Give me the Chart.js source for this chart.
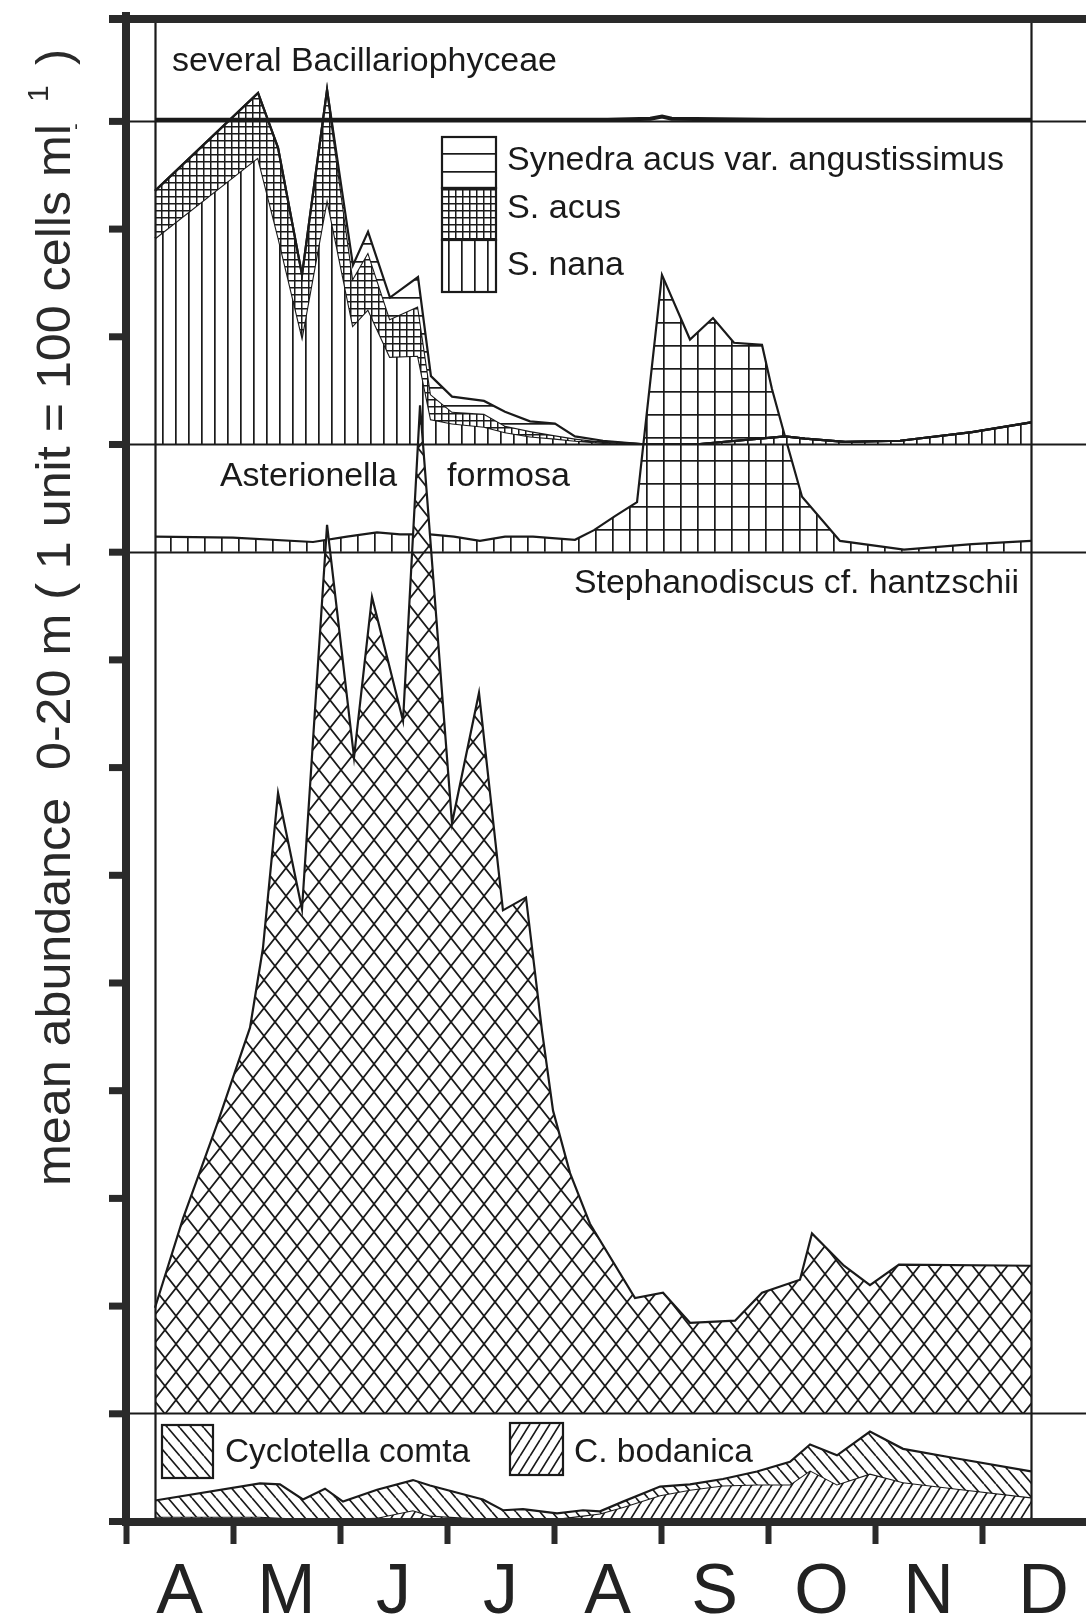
<!DOCTYPE html>
<html>
<head>
<meta charset="utf-8">
<script src="https://cdn.jsdelivr.net/npm/chart.js@4.4.1/dist/chart.umd.min.js"></script>
<style>
  html, body { margin: 0; padding: 0; background: #fff; }
  canvas { display: block; }
</style>
</head>
<body>
<canvas id="c" width="1086" height="1617"></canvas>
<script>
// month initials, labels sit between the month ticks
const months = ['A', 'M', 'J', 'J', 'A', 'S', 'O', 'N', 'D'];
// each band sits on its own baseline (units of 100 cells/ml)
const bandLines = [1, 9, 10, 13];

// dates are months after 1 April
const severalDates = [0.271, 2.0, 4.5, 4.9, 5.01, 5.1, 6.0, 8.458];
const several = [0.01, 0.01, 0.01, 0.02, 0.04, 0.02, 0.01, 0.01];

const synedraDates = [0.271, 1.234, 1.421, 1.645, 1.879, 2.121, 2.262, 2.467, 2.729, 2.850, 3.047, 3.346, 3.542,
  3.776, 4.009, 4.196, 4.458, 4.813, 5.364, 6.159, 6.346, 6.720, 7.234, 7.907, 8.458];
const nana = [1.91, 2.66, 1.93, 1.00, 2.28, 1.10, 1.25, 0.81, 0.82, 0.23, 0.19, 0.16, 0.11,
  0.07, 0.05, 0.03, 0.01, 0, 0, 0.07, 0.05, 0.02, 0.03, 0.11, 0.20];
const acus = [0.44, 0.60, 0.82, 0.57, 1.01, 0.44, 0.53, 0.35, 0.46, 0.23, 0.11, 0.12, 0.06,
  0.05, 0.03, 0.02, 0.01, 0, 0, 0, 0, 0, 0, 0, 0];
const angustissimus = [0, 0, 0, 0, 0, 0.12, 0.19, 0.20, 0.27, 0.17, 0.14, 0.12, 0.13,
  0.09, 0.11, 0.02, 0.01, 0, 0, 0, 0, 0, 0, 0, 0];

const asterDates = [0.271, 1.000, 1.748, 2.065, 2.346, 2.561, 2.841, 3.065, 3.308, 3.542, 3.804, 4.196, 4.374,
  4.570, 4.776, 5.009, 5.271, 5.486, 5.682, 5.944, 6.037, 6.159, 6.318, 6.673, 7.271, 7.907, 8.458];
const asterionella = [0.14, 0.13, 0.09, 0.14, 0.18, 0.16, 0.16, 0.14, 0.10, 0.14, 0.14, 0.11, 0.20,
  0.33, 0.46, 2.57, 1.97, 2.17, 1.94, 1.92, 1.51, 1.07, 0.51, 0.10, 0.02, 0.07, 0.10];

const stephDates = [0.271, 0.533, 0.850, 1.159, 1.280, 1.421, 1.645, 1.879, 2.131, 2.299, 2.589, 2.748, 3.047,
  3.299, 3.523, 3.738, 3.888, 3.991, 4.150, 4.336, 4.757, 5.019, 5.271, 5.692, 5.944, 6.299, 6.411,
  6.710, 6.953, 7.224, 8.458];
const stephanodiscus = [0.98, 1.81, 2.68, 3.58, 4.32, 5.76, 4.68, 8.25, 6.09, 7.58, 6.43, 9.36, 5.48,
  6.69, 4.67, 4.79, 3.55, 2.81, 2.23, 1.76, 1.07, 1.12, 0.84, 0.86, 1.12, 1.24, 1.67,
  1.37, 1.19, 1.38, 1.37];

const cycloDates = [0.271, 1.252, 1.439, 1.654, 1.860, 2.028, 2.346, 2.682, 2.841, 3.336, 3.523, 3.710, 4.028,
  4.271, 4.430, 4.645, 4.991, 5.271, 5.579, 5.897, 6.206, 6.393, 6.645, 6.953, 7.262, 7.766, 8.458];
const bodanica = [0.04, 0.04, 0.03, 0.02, 0.02, 0.02, 0.03, 0.10, 0.05, 0.02, 0.02, 0.02, 0.02,
  0.05, 0.07, 0.13, 0.24, 0.29, 0.33, 0.34, 0.34, 0.47, 0.34, 0.44, 0.36, 0.30, 0.22];
const comta = [0.15, 0.31, 0.31, 0.18, 0.28, 0.16, 0.26, 0.28, 0.28, 0.18, 0.08, 0.09, 0.05,
  0.05, 0.02, 0.05, 0.08, 0.05, 0.06, 0.12, 0.21, 0.24, 0.27, 0.39, 0.31, 0.28, 0.24];

const INK = '#1a1a1a';
const FONT = '"Liberation Sans", Arial, Helvetica, sans-serif';

const canvas = document.getElementById('c');
const ctx = canvas.getContext('2d');

// small white tiles with black hatching, repeated as fills
function makePattern(w, h, paint) {
  const tile = document.createElement('canvas');
  tile.width = w;
  tile.height = h;
  const g = tile.getContext('2d');
  g.fillStyle = '#fff';
  g.fillRect(0, 0, w, h);
  g.fillStyle = INK;
  g.strokeStyle = INK;
  g.lineWidth = 1.7;
  paint(g, w, h);
  return ctx.createPattern(tile, 'repeat');
}

function diag(g, w, h, back) {
  g.beginPath();
  for (let k = -1; k <= 1; k++) {
    if (back) { g.moveTo(k * w, 0); g.lineTo(k * w + w, h); }
    else { g.moveTo(k * w + w, 0); g.lineTo(k * w, h); }
  }
  g.stroke();
}

const patterns = {
  vertical: makePattern(13, 4, (g, w, h) => g.fillRect(6, 0, 1.7, h)),
  horizontal: makePattern(4, 18, (g, w, h) => g.fillRect(0, 9, w, 1.7)),
  fineGrid: makePattern(7, 7, (g, w, h) => { g.fillRect(0, 0, w, 1.5); g.fillRect(0, 0, 1.5, h); }),
  coarseGrid: makePattern(17, 23, (g, w, h) => { g.fillRect(0, 0, w, 1.7); g.fillRect(0, 0, 1.7, h); }),
  diamond: makePattern(22, 28, (g, w, h) => { diag(g, w, h, true); diag(g, w, h, false); }),
  back: makePattern(12, 14, (g, w, h) => diag(g, w, h, true)),
  fwd: makePattern(10, 16, (g, w, h) => diag(g, w, h, false))
};

// stacked points: band baseline plus the sum of the given layers
const pts = (dates, base, ...layers) =>
  dates.map((d, i) => ({ x: d, y: base + layers.reduce((s, a) => s + a[i], 0) }));

// dataset 0 is painted last, so it lies on top
const datasets = [
  { label: 'Stephanodiscus cf. hantzschii', data: pts(stephDates, 1, stephanodiscus),
    backgroundColor: patterns.diamond, fill: { value: 1 } },
  { label: 'several Bacillariophyceae', data: pts(severalDates, 13, several),
    backgroundColor: '#fff', fill: { value: 13 }, borderWidth: 4 },
  { label: 'Synedra acus var. angustissimus', data: pts(synedraDates, 10, nana, acus, angustissimus),
    backgroundColor: patterns.horizontal, fill: 3 },
  { label: 'S. acus', data: pts(synedraDates, 10, nana, acus),
    backgroundColor: patterns.fineGrid, fill: 4 },
  { label: 'S. nana', data: pts(synedraDates, 10, nana),
    backgroundColor: patterns.vertical, fill: { value: 10 } },
  { label: 'Asterionella formosa', data: pts(asterDates, 9, asterionella),
    backgroundColor: patterns.coarseGrid, fill: { value: 9 } },
  { label: 'Cyclotella comta', data: pts(cycloDates, 0, bodanica, comta),
    backgroundColor: patterns.back, fill: 7 },
  { label: 'C. bodanica', data: pts(cycloDates, 0, bodanica),
    backgroundColor: patterns.fwd, fill: { value: 0 } }
];

function text(c, str, x, y, size, width, align) {
  c.save();
  c.font = size + 'px ' + FONT;
  c.textBaseline = 'alphabetic';
  c.textAlign = 'left';
  const w = c.measureText(str).width;
  const sx = width ? width / w : 1;
  const left = align === 'right' ? x - w * sx : x;
  c.translate(left, y);
  c.scale(sx, 1);
  c.fillText(str, 0, 0);
  c.restore();
}

function swatch(c, pattern, x, y, w, h) {
  c.fillStyle = pattern;
  c.fillRect(x, y, w, h);
  c.lineWidth = 2.2;
  c.strokeStyle = INK;
  c.strokeRect(x, y, w, h);
}

const frame = {
  id: 'frame',
  afterDatasetsDraw(chart) {
    const { ctx: c, chartArea: a, scales: { x, y } } = chart;
    const W = chart.width;
    c.save();
    c.fillStyle = INK;
    c.strokeStyle = INK;

    // band separators run across to the right edge
    c.lineWidth = 2.2;
    c.beginPath();
    bandLines.forEach(v => {
      const py = Math.round(y.getPixelForValue(v)) + 0.5;
      c.moveTo(a.left, py);
      c.lineTo(W, py);
    });
    // start and end of the sampling season
    [stephDates[0], stephDates[stephDates.length - 1]].forEach(d => {
      const px = Math.round(x.getPixelForValue(d)) + 0.5;
      c.moveTo(px, a.top);
      c.lineTo(px, a.bottom);
    });
    c.stroke();

    // heavy outer axes
    c.fillStyle = '#2a2a2a';
    c.fillRect(a.left - 4, a.top - 7, 8, a.bottom - a.top + 11);
    c.fillRect(a.left - 4, a.top - 4, W, 8);
    c.fillRect(a.left - 4, a.bottom - 3, W, 8);
    for (let v = 0; v <= 13; v++) {
      const py = y.getPixelForValue(v);
      c.fillRect(a.left - 17, py - 3, 14, 7);
    }
    c.fillRect(a.left - 17, a.top - 4, 14, 8);
    for (let m = 0; m <= months.length; m++) {
      const px = x.getPixelForValue(m);
      c.fillRect(px - 2.5, a.bottom, 6, 23);
    }

    c.fillStyle = '#222';
    months.forEach((mo, i) => {
      c.font = '70px ' + FONT;
      c.textAlign = 'center';
      c.textBaseline = 'alphabetic';
      c.fillText(mo, x.getPixelForValue(i + 0.5) + (i === months.length - 1 ? 8 : 0), 1613);
    });

    // band names
    c.fillStyle = INK;
    text(c, 'several Bacillariophyceae', 172, 71, 34, 385);
    text(c, 'Synedra acus var. angustissimus', 507, 170, 34, 497);
    text(c, 'S. acus', 507, 218, 34, 114);
    text(c, 'S. nana', 507, 275, 34, 117);
    text(c, 'Asterionella', 220, 486, 34, 177);
    text(c, 'formosa', 447, 486, 34, 123);
    text(c, 'Stephanodiscus cf. hantzschii', 1019, 593, 34, 445, 'right');
    text(c, 'Cyclotella comta', 225, 1462, 34, 245);
    text(c, 'C. bodanica', 574, 1462, 34, 179);

    // legend keys
    swatch(c, patterns.horizontal, 442, 137, 54, 51);
    swatch(c, patterns.fineGrid, 442, 188, 54, 52);
    swatch(c, patterns.vertical, 442, 240, 54, 52);
    swatch(c, patterns.back, 162, 1425, 51, 53);
    swatch(c, patterns.fwd, 510, 1423, 53, 52);

    // rotated axis title
    c.save();
    c.translate(70, 1186);
    c.rotate(-Math.PI / 2);
    c.fillStyle = '#2a2a2a';
    text(c, 'mean abundance  0-20 m ( 1 unit = 100 cells ml', 0, 0, 48, 1062);
    text(c, '1', 1084, -22, 30);
    text(c, '-', 1056, 12, 20);
    text(c, ')', 1121, 0, 48);
    c.restore();

    c.restore();
  }
};

new Chart(ctx, {
  type: 'line',
  data: { datasets },
  options: {
    responsive: false,
    animation: false,
    devicePixelRatio: 1,
    layout: { padding: { left: 126, right: 0, top: 19, bottom: 96 } },
    plugins: { legend: { display: false }, tooltip: { enabled: false } },
    elements: {
      point: { radius: 0 },
      line: { tension: 0, borderWidth: 2.2, borderColor: INK }
    },
    scales: {
      x: { type: 'linear', display: false, min: 0, max: 960 / 107 },
      y: { type: 'linear', display: false, min: 0, max: 13.946 }
    }
  },
  plugins: [frame]
});
</script>
</body>
</html>
